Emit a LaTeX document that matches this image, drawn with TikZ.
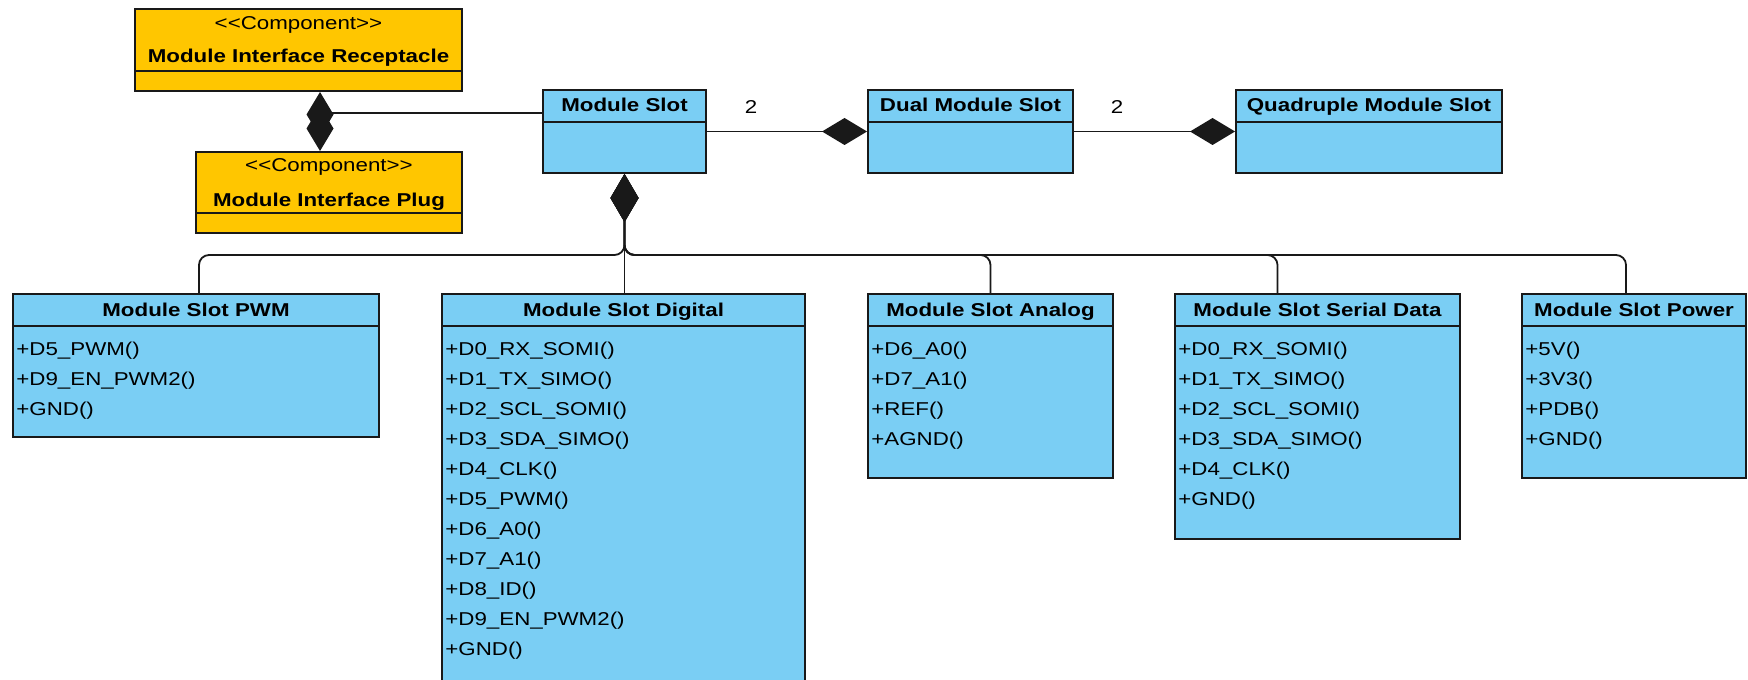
\documentclass[tikz,border=0pt]{standalone}
\usepackage{fontspec}
\setmainfont{Liberation Sans}
\newfontfamily\umlfont[FakeStretch=1.2]{Liberation Sans}
\usetikzlibrary{arrows.meta,fit}

\definecolor{slotblue}{RGB}{122,206,244}
\definecolor{compyellow}{RGB}{255,198,0}
\definecolor{edge}{RGB}{25,25,25}

% class box: name, x1, y1, x2, y2, y of the compartment line, fill
\newcommand\umlclass[7]{%
  \node[classbox, fill=#7, fit={(#2,#3) (#4,#5)}] (#1) {};
  \draw[divider] (#2,#6) -- (#4,#6);}

% operation list: name prefix, x, first baseline, list of operations
\newcommand\umlops[4]{%
  \foreach \op [count=\k from 0] in {#4}
    \node[op] (#1-\k) at (#2, {#3+30*\k}) {\op};}

\begin{document}
\begin{tikzpicture}[x=0.5pt,y=-0.5pt,
  classbox/.style={draw=edge, line width=1pt, inner sep=0pt, rectangle},
  divider/.style={draw=edge, line width=1pt},
  title/.style={font={\umlfont\bfseries\fontsize{9.3pt}{11pt}\selectfont}, anchor=base, inner sep=0pt},
  stereo/.style={font={\umlfont\fontsize{9.3pt}{11pt}\selectfont}, anchor=base, inner sep=0pt},
  op/.style={font={\umlfont\fontsize{9.3pt}{11pt}\selectfont}, anchor=base west, inner sep=0pt},
  mult/.style={font={\umlfont\fontsize{9.3pt}{11pt}\selectfont}, anchor=base, inner sep=0pt},
  conn/.style={draw=edge, line width=0.9pt},
  bus/.style={conn, rounded corners=5pt},
  comp/.style={-{Diamond[length=22.5pt,width=13.5pt]}},
  compbig/.style={-{Diamond[length=24pt,width=14pt]}}]

\fill[white] (0,0) rectangle (1748,679);
\clip (0,0) rectangle (1748,679);

% components
\umlclass{recep}{135}{9}{462}{91}{71}{compyellow}
\node[stereo] (recep-s) at (298.5,30) {{<}{<}Component{>}{>}};
\node[title] (recep-t) at (298.5,63) {Module Interface Receptacle};

\umlclass{plug}{196}{152}{462}{233}{213}{compyellow}
\node[stereo] (plug-s) at (329,172) {{<}{<}Component{>}{>}};
\node[title] (plug-t) at (329,206) {Module Interface Plug};

% slot aggregates
\umlclass{slot}{543}{90}{706}{173}{122}{slotblue}
\node[title] (slot-t) at (624.5,112) {Module Slot};

\umlclass{dual}{868}{90}{1073}{173}{122}{slotblue}
\node[title] (dual-t) at (970.5,112) {Dual Module Slot};

\umlclass{quad}{1236}{90}{1502}{173}{122}{slotblue}
\node[title] (quad-t) at (1369,112) {Quadruple Module Slot};

% specialised slots
\umlclass{pwm}{13}{294}{379}{437}{326}{slotblue}
\node[title] (pwm-t) at (196,316) {Module Slot PWM};
\umlops{pwm}{16}{355}{+D5\_PWM(), +D9\_EN\_PWM2(), +GND()}

\umlclass{digital}{442}{294}{805}{720}{326}{slotblue}
\node[title] (digital-t) at (623.5,316) {Module Slot Digital};
\umlops{digital}{445}{355}{+D0\_RX\_SOMI(), +D1\_TX\_SIMO(), +D2\_SCL\_SOMI(), +D3\_SDA\_SIMO(), +D4\_CLK(), +D5\_PWM(), +D6\_A0(), +D7\_A1(), +D8\_ID(), +D9\_EN\_PWM2(), +GND()}

\umlclass{analog}{868}{294}{1113}{478}{326}{slotblue}
\node[title] (analog-t) at (990.5,316) {Module Slot Analog};
\umlops{analog}{871}{355}{+D6\_A0(), +D7\_A1(), +REF(), +AGND()}

\umlclass{serial}{1175}{294}{1460}{539}{326}{slotblue}
\node[title] (serial-t) at (1317.5,316) {Module Slot Serial Data};
\umlops{serial}{1178}{355}{+D0\_RX\_SOMI(), +D1\_TX\_SIMO(), +D2\_SCL\_SOMI(), +D3\_SDA\_SIMO(), +D4\_CLK(), +GND()}

\umlclass{power}{1522}{294}{1746}{478}{326}{slotblue}
\node[title] (power-t) at (1634,316) {Module Slot Power};
\umlops{power}{1525}{355}{+5V(), +3V3(), +PDB(), +GND()}

% slot to interface parts
\draw[conn,comp] ([yshift=9.25pt]slot.west) -| ([xshift=10.75pt]recep.south);
\draw[conn,comp] ([yshift=9.25pt]slot.west) -| ([xshift=-4.5pt]plug.north);

% slot aggregation chain
\draw[conn,comp] (slot.east) -- (dual.west);
\node[mult] (m1) at (751,114) {2};
\draw[conn,comp] (dual.east) -- (quad.west);
\node[mult] (m2) at (1117,114) {2};

% specialised slots joined on a common bus
\coordinate (bus) at (624.5,255);
\draw[bus,compbig] ([xshift=1.5pt]pwm.north) |- (bus) -- (slot.south);
\draw[bus,compbig] (analog.north) |- (bus) -- (slot.south);
\draw[bus,compbig] ([xshift=-20pt]serial.north) |- (bus) -- (slot.south);
\draw[bus,compbig] ([xshift=-4pt]power.north) |- (bus) -- (slot.south);
\draw[conn,compbig] (digital.north -| slot.south) -- (slot.south);

\end{tikzpicture}
\end{document}
